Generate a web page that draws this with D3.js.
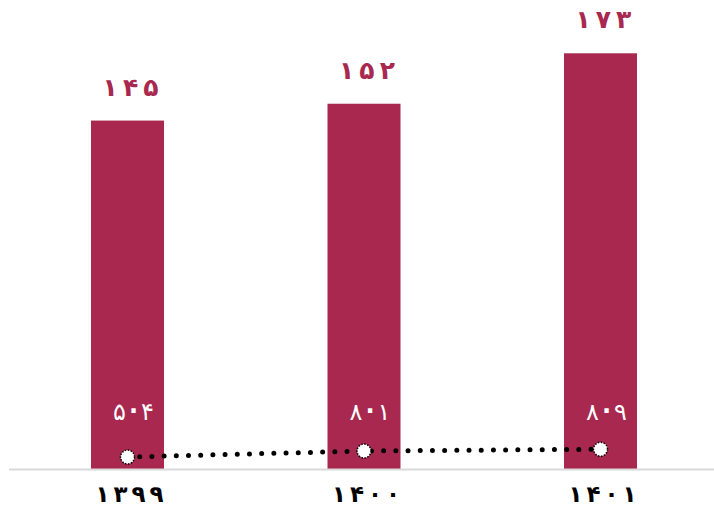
<!DOCTYPE html>
<html><head><meta charset="utf-8">
<script src="https://cdn.jsdelivr.net/npm/d3@7"></script>
<style>body{margin:0;background:#fff}svg{display:block}</style>
</head><body>
<svg id="c" width="714" height="511"></svg>
<script>
const years = ["۱۳۹۹", "۱۴۰۰", "۱۴۰۱"];
const barValues = [145, 152, 173];
const barLabels = ["۱۴۵", "۱۵۲", "۱۷۳"];
const lineValues = [5.4, 8.1, 8.9];
const lineLabels = ["۵.۴", "۸.۱", "۸.۹"];

const W = 714, H = 511, base = 469;
const barColor = "#a8284f";
const font = "'DejaVu Sans', sans-serif";
const svg = d3.select("#c");

const x = d3.scaleBand().domain(years).range([9.25, 718.75]).paddingInner(0.6913).paddingOuter(0.3457);
const y = d3.scaleLinear().domain([0, 180]).range([base, base - 180 * 2.403]);
const y2 = d3.scaleLinear().domain([0, 200]).range([base, base - 200 * 2.22]);

const data = years.map((yr, i) => ({yr, v: barValues[i], bl: barLabels[i], lv: lineValues[i], ll: lineLabels[i]}));
const cx = d => x(d.yr) + x.bandwidth() / 2;

// write a string glyph by glyph with extra spacing (letter-spacing is ignored for Arabic script)
function spaced(sel, accessor, gap, dotLift) {
  sel.each(function(d) {
    const t = d3.select(this);
    let prevLift = 0;
    Array.from(accessor(d)).forEach((ch, i) => {
      const ts = t.append("tspan").text(ch);
      let dy = prevLift;
      if (ch === ".") { dy -= dotLift; ts.attr("font-weight", "bold"); }
      if (i > 0) ts.attr("dx", gap);
      prevLift = ch === "." ? dotLift : 0;
      if (dy) ts.attr("dy", dy);
    });
  });
}

svg.selectAll("rect.bar").data(data).join("rect").attr("class", "bar")
  .attr("x", d => x(d.yr)).attr("width", x.bandwidth())
  .attr("y", d => y(d.v)).attr("height", d => y(0) - y(d.v))
  .attr("fill", barColor);

// axis line
svg.append("line").attr("x1", 9).attr("x2", W).attr("y1", base + 0.5).attr("y2", base + 0.5)
  .attr("stroke", "#d9d9d9").attr("stroke-width", 2);

// bar labels
svg.selectAll("text.bl").data(data).join("text").attr("class", "bl")
  .attr("x", d => cx(d) + 3).attr("y", d => y(d.v) - 25)
  .attr("text-anchor", "middle").attr("fill", barColor)
  .attr("font-family", font).attr("font-size", 25).attr("font-weight", 600)
  .call(spaced, d => d.bl, 5, 0);

// year labels
svg.selectAll("text.yl").data(data).join("text").attr("class", "yl")
  .attr("x", d => cx(d) + 2).attr("y", 502)
  .attr("text-anchor", "middle").attr("fill", "#000")
  .attr("font-family", font).attr("font-size", 23).attr("font-weight", "bold")
  .call(spaced, d => d.yr, 4, 0);

// dotted line
const line = d3.line().x(cx).y(d => y2(d.lv));
svg.append("path").datum(data).attr("d", line).attr("fill", "none")
  .attr("stroke", "#000").attr("stroke-width", 5).attr("stroke-linecap", "round")
  .attr("stroke-dasharray", "0 12.2");

// markers
svg.selectAll("circle.m").data(data).join("circle").attr("class", "m")
  .attr("cx", cx).attr("cy", d => y2(d.lv))
  .attr("r", 7).attr("fill", "#fff").attr("stroke", "#000")
  .attr("stroke-width", 1.5).attr("stroke-dasharray", "1.5 1.5");

// line labels (Persian digits with a raised decimal point)
svg.selectAll("text.ll").data(data).join("text").attr("class", "ll")
  .attr("x", d => cx(d) + 6).attr("y", 420)
  .attr("text-anchor", "middle").attr("fill", "#fff")
  .attr("font-family", font).attr("font-size", 24).attr("font-weight", 500)
  .call(spaced, d => d.ll, 3, 7);
</script>
</body></html>
